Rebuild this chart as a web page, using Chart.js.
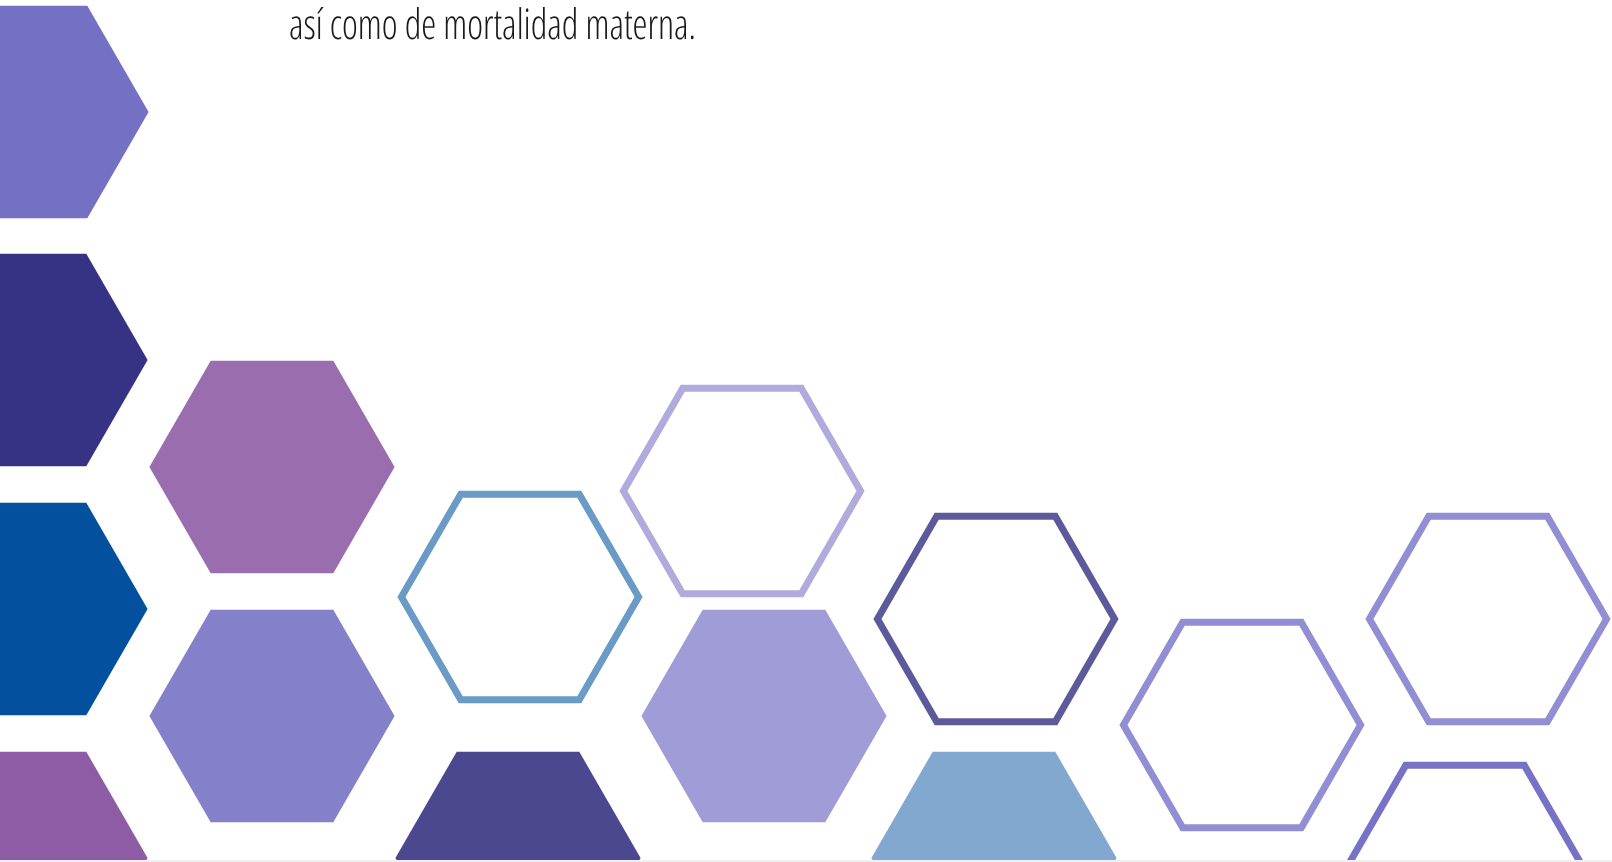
<!DOCTYPE html>
<html>
<head>
<meta charset="utf-8">
<title>Hexágonos</title>
<script src="https://cdn.jsdelivr.net/npm/chart.js@4.4.1/dist/chart.umd.min.js"></script>
<style>
  html, body { margin: 0; padding: 0; background: #f0f0f0; }
  #wrap { width: 1612px; height: 860px; background: #ffffff; }
</style>
</head>
<body>
<div id="wrap"><canvas id="hexChart" width="1612" height="860"></canvas></div>
<script>
// texto del encabezado (continuación del párrafo)
const headline = 'así como de mortalidad materna.';

// hexágonos rellenos: centro (x, y) en unidades de la página
const filledX = [26, 25, 25, 25, 272, 272, 518, 764, 994];
const filledY = [112, 360, 609, 858, 467, 716, 858, 716, 858];
const filledColors = ['#7470c4', '#363284', '#03519e', '#8e5ca5', '#9a6dae', '#8480ca', '#4b4890', '#a09cd7', '#82a8cf'];

// hexágonos de contorno
const outlineX = [520, 742, 996, 1242, 1488, 1465];
const outlineY = [597, 491, 619, 725, 619, 868];
const outlineColors = ['#6a9ac6', '#afabdd', '#5d5a9c', '#928ed4', '#928ed4', '#7672c6'];

const hexRadius = 122.6;
const hexLine = 7;

function hexPath(ctx, cx, cy, r) {
    ctx.beginPath();
    for (let i = 0; i < 6; i++) {
        const a = Math.PI / 3 * i;
        const px = cx + r * Math.cos(a);
        const py = cy + r * Math.sin(a);
        if (i === 0) ctx.moveTo(px, py); else ctx.lineTo(px, py);
    }
    ctx.closePath();
}

const hexPlugin = {
    id: 'hexagons',
    afterDatasetsDraw(chart) {
        const ctx = chart.ctx;
        chart.data.datasets.forEach((ds, di) => {
            const meta = chart.getDatasetMeta(di);
            meta.data.forEach((pt, i) => {
                ctx.save();
                if (ds.filled) {
                    hexPath(ctx, pt.x, pt.y, hexRadius);
                    ctx.fillStyle = ds.hexColors[i];
                    ctx.fill();
                } else {
                    hexPath(ctx, pt.x, pt.y, hexRadius - hexLine / (2 * Math.cos(Math.PI / 6)));
                    ctx.strokeStyle = ds.hexColors[i];
                    ctx.lineWidth = hexLine;
                    ctx.lineJoin = 'miter';
                    ctx.stroke();
                }
                ctx.restore();
            });
        });
    }
};

const headlinePlugin = {
    id: 'headline',
    afterDraw(chart) {
        const ctx = chart.ctx;
        ctx.save();
        ctx.font = '300 42px "Open Sans", "Noto Sans", sans-serif';
        if ('fontStretch' in ctx) ctx.fontStretch = 'condensed';
        if ('textRendering' in ctx) ctx.textRendering = 'geometricPrecision';
        ctx.fillStyle = '#1a1a1a';
        ctx.textBaseline = 'alphabetic';
        const w = ctx.measureText(headline).width;
        const targetW = 407;
        ctx.translate(289, 39);
        ctx.scale(targetW / w, 1);
        ctx.fillText(headline, 0, 0);
        ctx.restore();
    }
};

const ctx = document.getElementById('hexChart').getContext('2d');
const hexChart = new Chart(ctx, {
    type: 'scatter',
    data: {
        datasets: [{
            label: 'rellenos',
            data: filledX.map((x, i) => ({ x: x, y: filledY[i] })),
            hexColors: filledColors,
            filled: true,
            pointRadius: 0
        }, {
            label: 'contornos',
            data: outlineX.map((x, i) => ({ x: x, y: outlineY[i] })),
            hexColors: outlineColors,
            filled: false,
            pointRadius: 0
        }]
    },
    options: {
        responsive: false,
        animation: false,
        layout: { padding: 0 },
        plugins: {
            legend: { display: false },
            tooltip: { enabled: false },
            title: { display: false }
        },
        scales: {
            x: { type: 'linear', min: 0, max: 1612, display: false },
            y: { type: 'linear', min: 0, max: 860, reverse: true, display: false }
        }
    },
    plugins: [hexPlugin, headlinePlugin]
});
</script>
</body>
</html>
